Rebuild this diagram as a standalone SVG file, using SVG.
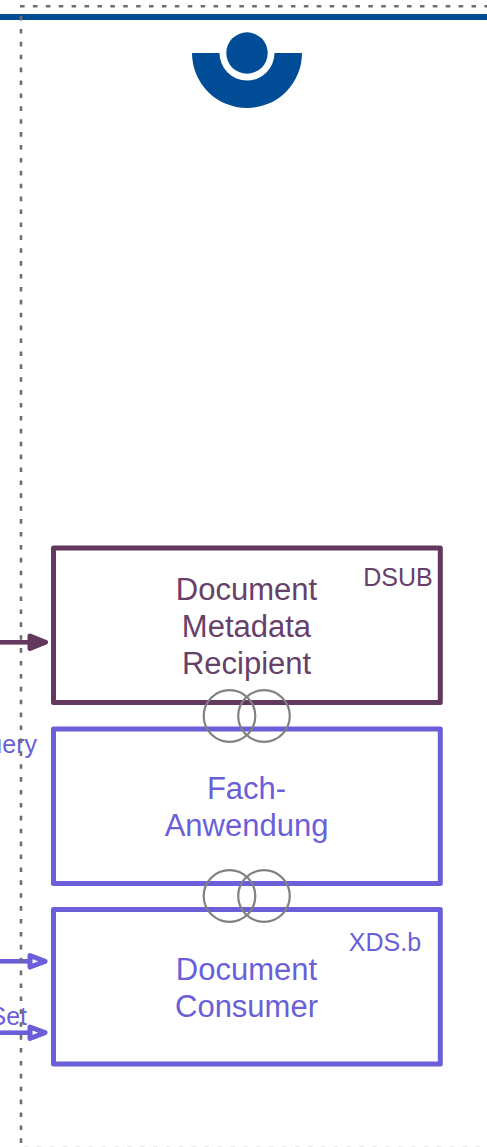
<svg xmlns="http://www.w3.org/2000/svg" width="487" height="1147" viewBox="0 0 487 1147">
<style>
text{font-family:"Liberation Sans",Arial,sans-serif;text-anchor:middle}
.t{font-size:31px}
.s{font-size:25px}
.plum{fill:#67406a}
.blue{fill:#6a5fd8}
.box{fill:none;stroke-width:5;stroke-linejoin:round}
.ring{fill:none;stroke:#808080;stroke-width:2.200}
.dot{fill:none;stroke:#6e6e6e;stroke-width:2.600;stroke-dasharray:4.600 8.300}
</style>
<rect width="487" height="1147" fill="#fff"/>
<rect id="header-rule" x="0" y="14" width="487" height="6" fill="#004c96"/>
<g id="logo" fill="#004c96">
<path d="M192 53H219.500A27.500 27.500 0 0 0 274.500 53H302A55 55 0 0 1 192 53Z"/>
<circle cx="247" cy="53" r="20.700"/>
</g>
<g id="node-recipient">
<rect class="box" x="53.500" y="548" width="386.800" height="154.500" stroke="#63385f"/>
<text class="t plum" x="246.500" y="599.500">Document</text>
<text class="t plum" x="246.500" y="636.700">Metadata</text>
<text class="t plum" x="246.500" y="673.500">Recipient</text>
<text class="s plum" x="398" y="585.700">DSUB</text>
</g>
<g id="node-fach">
<rect class="box" x="53.500" y="729" width="386.800" height="154.500" stroke="#6a5fd8"/>
<text class="t blue" x="246.500" y="799">Fach-</text>
<text class="t blue" x="246.500" y="836">Anwendung</text>
</g>
<g id="node-consumer">
<rect class="box" x="53.500" y="909.500" width="386.800" height="154.500" stroke="#6a5fd8"/>
<text class="t blue" x="246.500" y="980">Document</text>
<text class="t blue" x="246.500" y="1017">Consumer</text>
<text class="s blue" x="385" y="951">XDS.b</text>
</g>
<g id="connectors">
<path d="M0 642.300H30" stroke="#63385f" stroke-width="4.600" fill="none"/>
<path d="M30 636L45.500 642.300L30 648.500Z" fill="#63385f" stroke="#63385f" stroke-width="5" stroke-linejoin="round"/>
<path d="M0 961.300H30" stroke="#6a5fd8" stroke-width="4.600" fill="none"/>
<path d="M30 955.500L45 961.300L30 967Z" fill="#fff" stroke="#6a5fd8" stroke-width="5" stroke-linejoin="round"/>
<path d="M0 1032.700H30" stroke="#6a5fd8" stroke-width="4.600" fill="none"/>
<path d="M30 1027L45 1032.700L30 1038.500Z" fill="#fff" stroke="#6a5fd8" stroke-width="5" stroke-linejoin="round"/>
<text class="s blue" x="37" y="753" style="text-anchor:end">uery</text>
<text class="s blue" x="27" y="1025" style="text-anchor:end">Set</text>
</g>
<g id="interfaces">
<circle class="ring" cx="229.500" cy="716" r="25.800"/>
<circle class="ring" cx="264" cy="716" r="25.800"/>
<circle class="ring" cx="229.500" cy="896" r="25.800"/>
<circle class="ring" cx="264" cy="896" r="25.800"/>
</g>
<g id="boundary">
<path class="dot" d="M20 6.300H487"/>
<path class="dot" d="M21 16V1143"/>
<path d="M24 1147.300H487" fill="none" stroke="#d8d8d8" stroke-width="1.500" stroke-dasharray="4.600 8.300"/>
</g>
</svg>
